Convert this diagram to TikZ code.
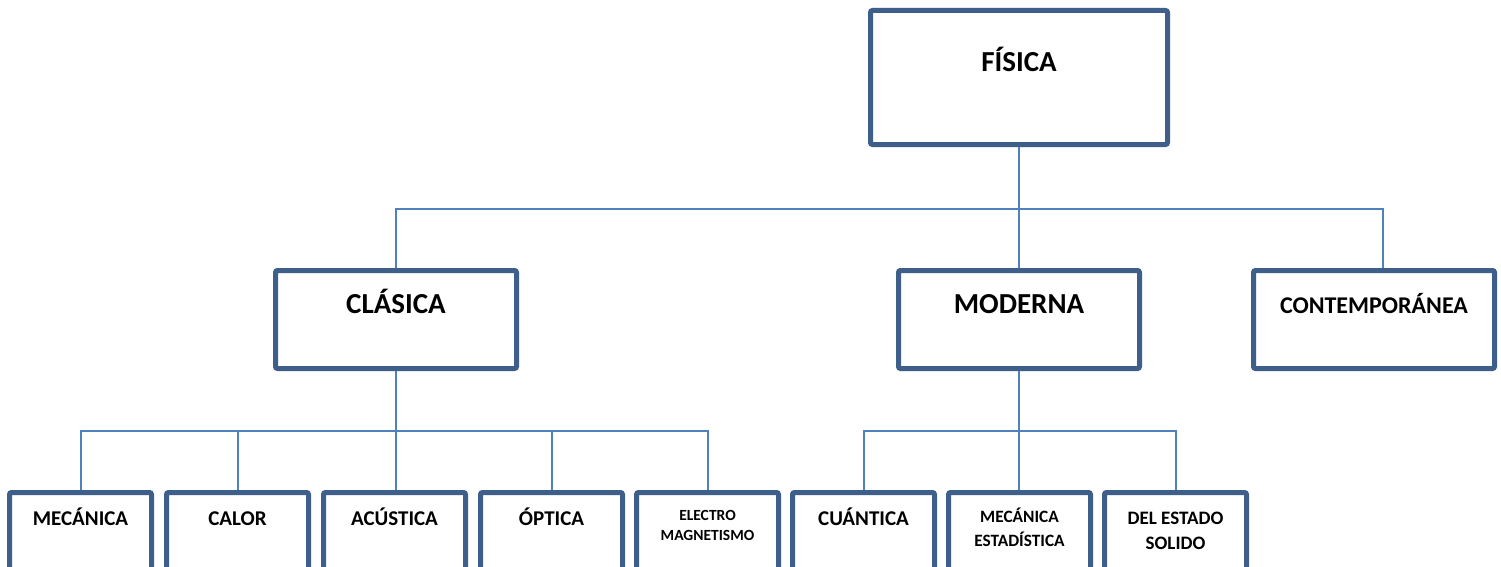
\documentclass[tikz,border=0pt]{standalone}
\usepackage{fontspec}
\setmainfont{Carlito}
\usetikzlibrary{positioning}
\definecolor{boxblue}{HTML}{3E5F8A}
\definecolor{linkblue}{HTML}{4F81BD}
\tikzset{
  box/.style     ={draw=boxblue, line width=5pt, rounded corners=2pt, fill=white,
                   align=center, inner xsep=0pt, inner ysep=0pt},
  topbox/.style  ={box, minimum width=297pt, text height=61pt, text depth=73pt,
                   font=\fontsize{29}{35}\selectfont\bfseries},
  midbox/.style  ={box, minimum width=241pt, text height=42.5pt, text depth=55.5pt,
                   font=\fontsize{29}{35}\selectfont\bfseries},
  leafbox/.style ={box, minimum width=142pt, text height=33pt, text depth=94.5pt,
                   font=\fontsize{21}{25}\selectfont\bfseries},
  conn/.style    ={draw=linkblue, line width=2pt},
}
\begin{document}
\begin{tikzpicture}[x=1pt, y=-1pt, node distance=10pt]
  \useasboundingbox (0,0) rectangle (1501,567);
  \clip (0,0) rectangle (1501,567);

  % top and middle level
  \node[topbox] (fisica)  at (1019,77.5)  {FÍSICA};
  \node[midbox] (clasica) at (396,319.5)  {CLÁSICA};
  \node[midbox] (moderna) at (1019,319.5) {MODERNA};
  \node[midbox, font=\fontsize{24}{29}\selectfont\bfseries]
                (contemp) at (1374,319.5) {CONTEMPORÁNEA};

  % leaves
  \node[leafbox] (mecanica) at (80.5,556.25) {MECÁNICA};
  \node[leafbox, right=of mecanica] (calor)    {CALOR};
  \node[leafbox, right=of calor]    (acustica) {ACÚSTICA};
  \node[leafbox, right=of acustica] (optica)   {ÓPTICA};
  \node[leafbox, right=9pt of optica, text height=47.5pt, text depth=80pt,
        font=\fontsize{15.5}{20}\selectfont\bfseries]
                                    (electro)  {ELECTRO\\MAGNETISMO};
  \node[leafbox, right=9pt of electro]  (cuantica) {CUÁNTICA};
  \node[leafbox, right=9pt of cuantica, text height=53.5pt, text depth=74pt,
        font=\fontsize{17.3}{24}\selectfont\bfseries]
                                    (estadistica) {MECÁNICA\\ESTADÍSTICA};
  \node[leafbox, right=9pt of estadistica, text height=56.5pt, text depth=71pt,
        font=\fontsize{19}{25}\selectfont\bfseries]
                                    (solido)   {DEL ESTADO\\SOLIDO};

  \coordinate (busA) at (0,209);
  \coordinate (busB) at (0,431);
  \coordinate (contempin) at ([xshift=9pt]contemp.north);

  \draw[conn] (fisica) -- (moderna);
  \draw[conn] (clasica.north) |- (contempin |- busA) -- (contempin);

  \draw[conn] (mecanica.north) |- (electro.north |- busB) -- (electro.north);
  \draw[conn] (clasica.south) -- (clasica.south |- acustica.north);
  \foreach \n in {calor, optica}
    \draw[conn] (\n.north) -- (\n.north |- busB);

  \draw[conn] (cuantica.north) |- (solido.north |- busB) -- (solido.north);
  \draw[conn] (moderna.south) -- (moderna.south |- estadistica.north);
\end{tikzpicture}
\end{document}
